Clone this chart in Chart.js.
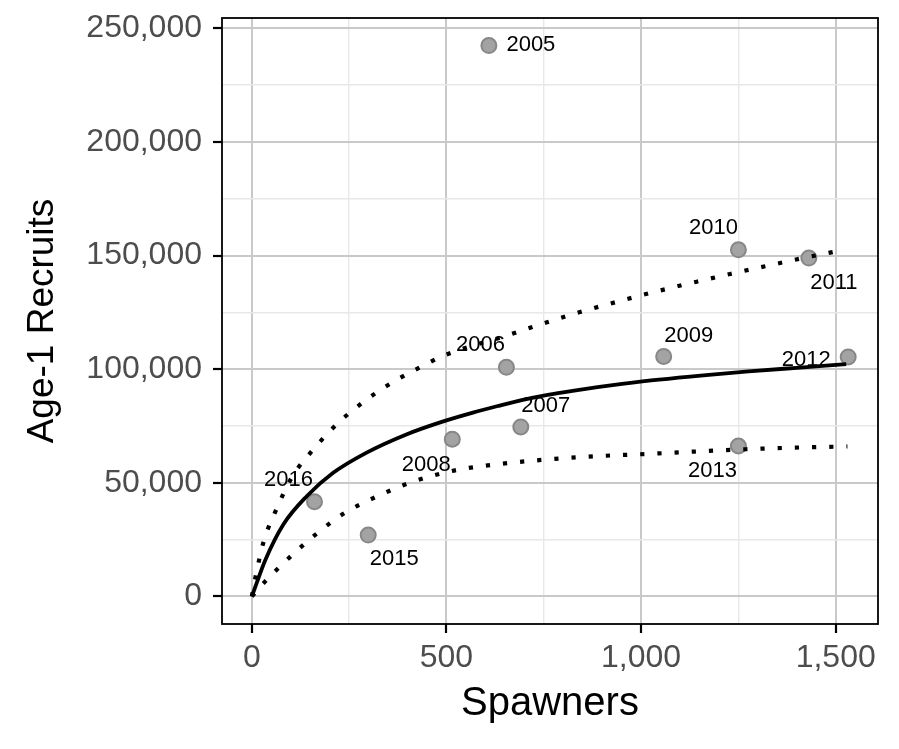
<!DOCTYPE html>
<html>
<head>
<meta charset="utf-8">
<script src="https://cdn.jsdelivr.net/npm/chart.js@4.4.0/dist/chart.umd.min.js"></script>
<style>
  html, body { margin: 0; padding: 0; background: #fff; }
  #c { display: block; }
</style>
</head>
<body>
<canvas id="c" width="899" height="749"></canvas>
<script>
// observed points
const years = ["2005", "2006", "2007", "2008", "2009", "2010", "2011", "2012", "2013", "2015", "2016"];
const spawners = [609, 654, 691, 515, 1058, 1250, 1431, 1532, 1250, 299, 161];
const recruits = [242400, 100800, 74600, 69200, 105600, 152500, 148900, 105400, 66200, 27000, 41700];

// fitted curve
const fitS = [0, 35, 81, 141, 209, 295, 397, 482, 568, 632, 696, 760, 824, 888, 951, 1046, 1160, 1276, 1400, 1527];
const fitR = [0, 16200, 31700, 44100, 54400, 63300, 71300, 76500, 80900, 83800, 86500, 88700, 90500, 92100, 93500, 95400, 97300, 99000, 100600, 102200];

// upper and lower bands
const upperS = [0, 9, 30, 63, 105, 158, 221, 290, 367, 448, 489, 662, 747, 832, 922, 1007, 1143, 1229, 1319, 1408, 1503];
const upperR = [0, 8150, 23900, 38300, 53000, 64700, 76200, 86000, 94800, 102200, 105700, 115200, 120000, 124600, 128900, 132800, 138500, 141900, 145300, 148600, 151900];
const lowerS = [0, 32, 97, 167, 239, 319, 404, 491, 534, 628, 760, 896, 1028, 1216, 1395, 1530];
const lowerR = [0, 6200, 17200, 27700, 36800, 43800, 49900, 54300, 55900, 58100, 60300, 61800, 62800, 64400, 65500, 66000];

const xTicks = [0, 250, 500, 750, 1000, 1250, 1500];
const yTicks = [0, 25000, 50000, 75000, 100000, 125000, 150000, 175000, 200000, 225000, 250000];

// label nudges in px (like ggrepel)
const labelNudge = [[42, -1], [-26, -22], [25, -21], [-26, 26], [25, -21], [-25, -22], [25, 25], [-42, 3], [-26, 25], [26, 24], [-26, -22]];

const FONT = "'Liberation Sans', Arial, Helvetica, sans-serif";

function pairs(xs, ys) {
  return xs.map((x, i) => ({ x: x, y: ys[i] }));
}

function fmt(v) {
  return v.toLocaleString("en-US");
}

const isMajorX = (v) => v % 500 === 0;
const isMajorY = (v) => v % 50000 === 0;

const panelBorder = {
  id: "panelBorder",
  afterDraw(chart) {
    const a = chart.chartArea;
    const ctx = chart.ctx;
    ctx.save();
    ctx.strokeStyle = "#000";
    ctx.lineWidth = 1.8;
    ctx.strokeRect(a.left, a.top, a.right - a.left, a.bottom - a.top);
    ctx.restore();
  },
};

const pointLabels = {
  id: "pointLabels",
  afterDatasetsDraw(chart) {
    const ctx = chart.ctx;
    const xs = chart.scales.x;
    const ys = chart.scales.y;
    ctx.save();
    ctx.font = "22px " + FONT;
    ctx.fillStyle = "#000";
    ctx.textAlign = "center";
    ctx.textBaseline = "middle";
    years.forEach((yr, i) => {
      const px = xs.getPixelForValue(spawners[i]) + labelNudge[i][0];
      const py = ys.getPixelForValue(recruits[i]) + labelNudge[i][1];
      ctx.fillText(yr, px, py);
    });
    ctx.restore();
  },
};

function gridOpts(isMajor) {
  return {
    color: (c) => (isMajor(c.tick.value) ? "#c9c9c9" : "#e8e8e8"),
    lineWidth: (c) => (isMajor(c.tick.value) ? 2 : 1.4),
    tickColor: (c) => (isMajor(c.tick.value) ? "#000" : "rgba(0,0,0,0)"),
    tickLength: 9,
    tickWidth: 2.2,
    drawTicks: true,
  };
}

const dotted = {
  showLine: true,
  borderColor: "#000",
  borderWidth: 4.2,
  borderDash: [4.2, 13],
  pointRadius: 0,
  cubicInterpolationMode: "monotone",
  order: 1,
};

new Chart(document.getElementById("c"), {
  type: "scatter",
  data: {
    datasets: [
      {
        data: pairs(spawners, recruits),
        backgroundColor: "#a3a3a3",
        borderColor: "#878787",
        borderWidth: 2,
        pointRadius: 7.5,
        order: 3,
      },
      {
        data: pairs(fitS, fitR),
        showLine: true,
        borderColor: "#000",
        borderWidth: 3.8,
        pointRadius: 0,
        cubicInterpolationMode: "monotone",
        order: 1,
      },
      Object.assign({ data: pairs(upperS, upperR) }, dotted),
      Object.assign({ data: pairs(lowerS, lowerR) }, dotted),
    ],
  },
  options: {
    responsive: false,
    animation: false,
    layout: { padding: { left: 0, right: 21, top: 18, bottom: 0 } },
    plugins: {
      legend: { display: false },
      tooltip: { enabled: false },
    },
    scales: {
      x: {
        type: "linear",
        min: -76.6,
        max: 1608.6,
        afterBuildTicks: (s) => { s.ticks = xTicks.map((v) => ({ value: v })); },
        afterFit: (s) => {
          s.height = 125;
          s.paddingLeft = 0;
          s.paddingRight = 0;
        },
        grid: gridOpts(isMajorX),
        border: { display: false },
        ticks: {
          autoSkip: false,
          maxRotation: 0,
          padding: 6,
          color: "#4d4d4d",
          font: { family: FONT, size: 32 },
          callback: (v) => (isMajorX(v) ? fmt(v) : ""),
        },
        title: {
          display: true,
          text: "Spawners",
          color: "#000",
          font: { family: FONT, size: 40 },
          padding: { top: 0, bottom: 21 },
        },
      },
      y: {
        type: "linear",
        min: -12120,
        max: 254520,
        afterBuildTicks: (s) => { s.ticks = yTicks.map((v) => ({ value: v })); },
        afterFit: (s) => {
          s.width = 222;
          s.paddingTop = 0;
          s.paddingBottom = 0;
        },
        grid: gridOpts(isMajorY),
        border: { display: false },
        ticks: {
          autoSkip: false,
          padding: 11,
          color: "#4d4d4d",
          font: { family: FONT, size: 32 },
          callback: (v) => (isMajorY(v) ? fmt(v) : ""),
        },
        title: {
          display: true,
          text: "Age-1 Recruits",
          color: "#000",
          font: { family: FONT, size: 37 },
          padding: { top: 21, bottom: 0 },
        },
      },
    },
  },
  plugins: [panelBorder, pointLabels],
});
</script>
</body>
</html>
